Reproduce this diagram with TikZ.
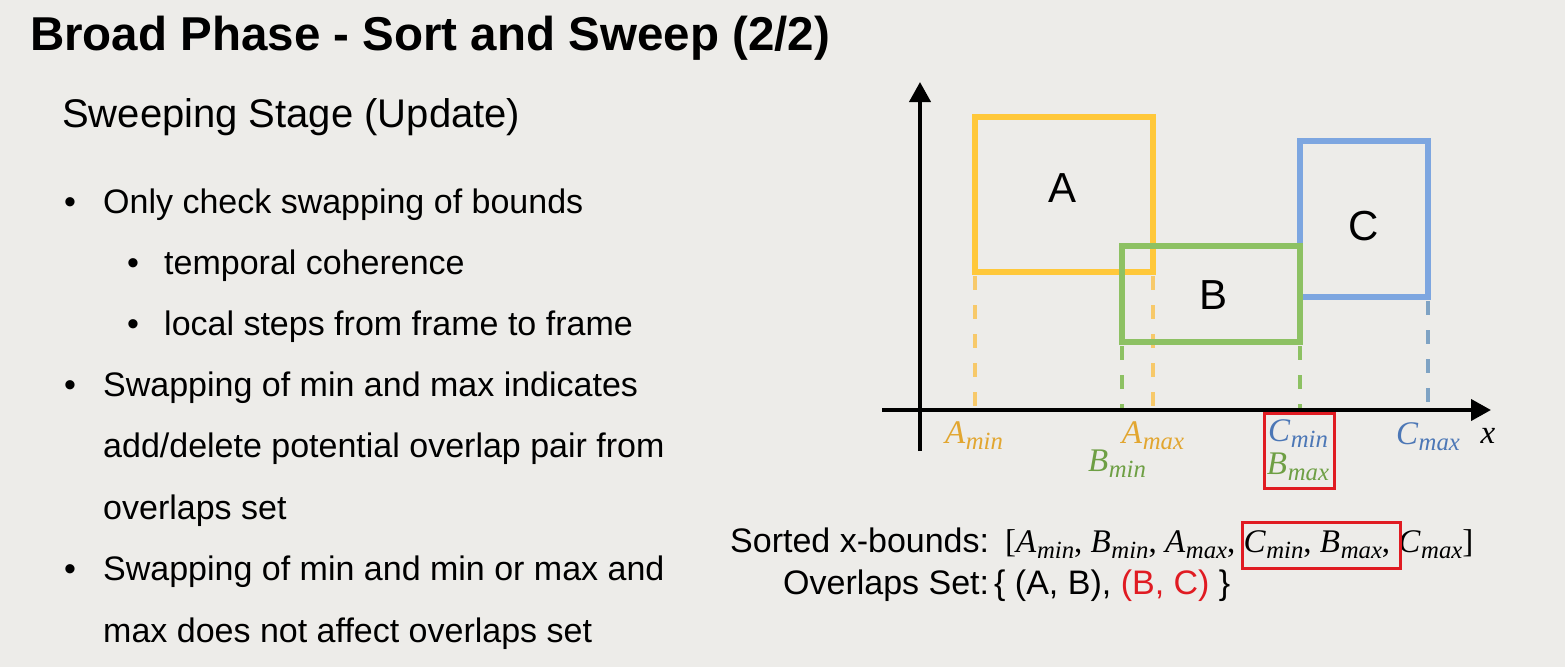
\documentclass[tikz,border=0pt]{standalone}
\usepackage{graphicx}
\usepackage{fontspec}
\setmainfont{Liberation Sans}
\newfontfamily\mserif{Liberation Serif}
\newcommand{\bnd}[2]{{\mserif\itshape #1\kern0.02em\raisebox{-0.2em}{\scalebox{0.75}{#2}}}}
\usetikzlibrary{arrows.meta}
\definecolor{bg}{HTML}{EDECE9}
\definecolor{boxA}{HTML}{FFC83A}
\definecolor{boxB}{HTML}{8DC163}
\definecolor{boxC}{HTML}{7DA6E0}
\definecolor{txtA}{HTML}{E2A630}
\definecolor{txtB}{HTML}{6E9F44}
\definecolor{txtC}{HTML}{4C77B6}
\definecolor{dashA}{HTML}{F7C96A}
\definecolor{dashC}{HTML}{7FA3C4}
\definecolor{hl}{HTML}{E01B22}
\tikzset{
  txt/.style={anchor=base west, inner sep=0pt, font=\fontsize{34}{40}\selectfont},
  lbl/.style={anchor=base, inner sep=0pt, font=\fontsize{33}{38}\selectfont},
  boxlbl/.style={inner sep=0pt, font=\fontsize{42}{48}\selectfont},
  aabb/.style={line width=6.5pt, line join=miter},
  proj/.style={line width=3.5pt, dash pattern=on 14pt off 15pt},
  axis/.style={line width=4pt, -{Triangle[length=20pt,width=21pt]}},
  hlbox/.style={draw=hl, line width=3pt}
}
\begin{document}
\begin{tikzpicture}[x=1pt,y=-1pt]
\fill[bg] (0,0) rectangle (1565,667);
\useasboundingbox (0,0) rectangle (1565,667);

% title and heading
\node[txt, font=\fontsize{47.5}{56}\selectfont\bfseries] (title) at (30,50) {Broad Phase - Sort and Sweep (2/2)};
\node[txt, font=\fontsize{40}{48}\selectfont] (stage) at (62,127) {Sweeping Stage (Update)};

% bullets
\node[txt] (b1) at (64,213) {•};
\node[txt] (t1) at (103,213) {Only check swapping of bounds};
\node[txt] (b1a) at (127,274) {•};
\node[txt] (t1a) at (164,274) {temporal coherence};
\node[txt] (b1b) at (127,335) {•};
\node[txt] (t1b) at (164,335) {local steps from frame to frame};
\node[txt] (b2) at (64,396) {•};
\node[txt] (t2a) at (103,396) {Swapping of min and max indicates};
\node[txt] (t2b) at (103,457) {add/delete potential overlap pair from};
\node[txt] (t2c) at (103,519) {overlaps set};
\node[txt] (b3) at (64,580) {•};
\node[txt] (t3a) at (103,580) {Swapping of min and min or max and};
\node[txt] (t3b) at (103,642) {max does not affect overlaps set};

% box corners
\coordinate (A1) at (975,117); \coordinate (A2) at (1153,272);
\coordinate (B1) at (1122,246); \coordinate (B2) at (1300,342);
\coordinate (C1) at (1300,141); \coordinate (C2) at (1428,297);

% projection dashes
\draw[proj, dashA] (975,276) -- (975,410);
\draw[proj, dashA] (1153,276) -- (1153,410);
\draw[proj, boxB] (1122,346) -- (1122,410);
\draw[proj, boxB] (1300,346) -- (1300,410);
\draw[proj, dashC] (1428,301) -- (1428,410);

% axes
\coordinate (xs) at (882,410); \coordinate (xe) at (1491,410);
\coordinate (ys) at (920,451); \coordinate (ye) at (920,82);
\draw[axis] (xs) -- (xe);
\draw[axis] (ys) -- (ye);

% boxes
\draw[aabb, boxA] (A1) rectangle (A2);
\draw[aabb, boxC] (C1) rectangle (C2);
\draw[aabb, boxB] (B1) rectangle (B2);
\node[boxlbl] (lA) at (1062,188) {A};
\node[boxlbl] (lB) at (1213,295) {B};
\node[boxlbl] (lC) at (1364,226) {C};

% axis labels
\node[lbl, text=txtA] (amin) at (974,443) {\bnd{A}{min}};
\node[lbl, text=txtA] (amax) at (1153,443) {\bnd{A}{max}};
\node[lbl, text=txtB] (bmin) at (1117,471) {\bnd{B}{min}};
\node[lbl, text=txtC] (cmin) at (1298,441) {\bnd{C}{min}};
\node[lbl, text=txtB] (bmax) at (1298,474) {\bnd{B}{max}};
\node[lbl, text=txtC] (cmax) at (1428,444) {\bnd{C}{max}};
\node[lbl] (xl) at (1488,443) {\mserif\itshape x};
\draw[hlbox] (1264,413) rectangle (1334,488);

% sorted bounds
\node[txt] (sorted) at (730,552) {Sorted x-bounds:};
\node[txt, font=\fontsize{33}{38}\selectfont\mserif] (list) at (1005,552) {[\bnd{A}{min}, \bnd{B}{min}, \bnd{A}{max}, \bnd{C}{min}, \bnd{B}{max}, \bnd{C}{max}]};
\draw[hlbox] (1242,522) rectangle (1400,568);
\node[txt] (ovl) at (783,594) {Overlaps Set:\kern5pt\{ (A, B), {\color{hl}(B, C)} \}};
\end{tikzpicture}
\end{document}
